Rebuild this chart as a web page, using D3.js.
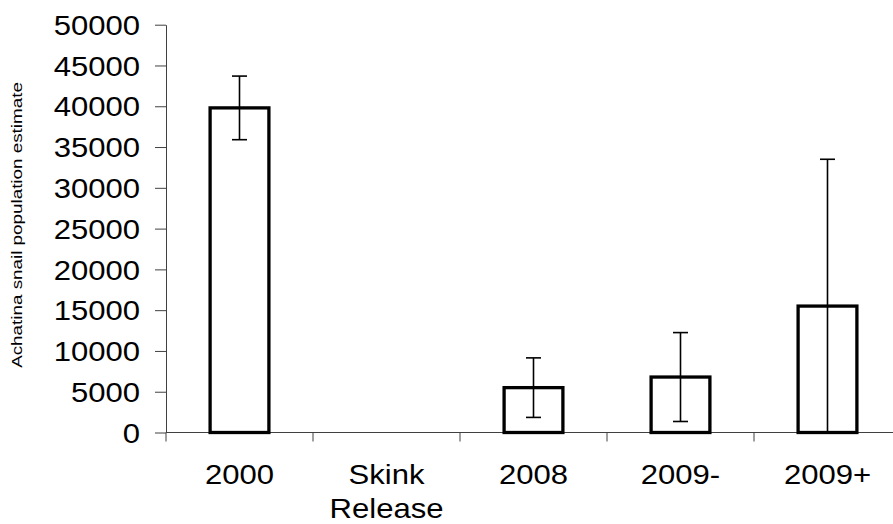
<!DOCTYPE html>
<html>
<head>
<meta charset="utf-8">
<script src="https://cdn.jsdelivr.net/npm/d3@7"></script>
<style>
  html, body { margin: 0; padding: 0; background: #fff; }
  svg { display: block; font-family: "Liberation Sans", Arial, sans-serif; }
</style>
</head>
<body>
<svg id="chart" width="893" height="524"></svg>
<script>
// ---- data ----
const categories = ["2000", "Skink Release", "2008", "2009-", "2009+"];
const means = [39800, null, 5500, 6800, 15500];
const errors = [3900, null, 3650, 5450, 18000];
const yTicks = [0, 5000, 10000, 15000, 20000, 25000, 30000, 35000, 40000, 45000, 50000];
const yTitle = "Achatina snail population estimate";

// ---- layout ----
const svg = d3.select("#chart");
const plotLeft = 166, plotRight = 901, plotTop = 24.7, plotBottom = 432.5;
const sx = 1.15; // horizontal stretch of the original lettering

const x = d3.scaleBand().domain(categories).range([plotLeft, plotRight])
  .paddingInner(0.6).paddingOuter(0.3);
const y = d3.scaleLinear().domain([0, 50000]).range([plotBottom, plotTop]);

const axisColor = "#404040";

// y axis
const gy = svg.append("g").attr("transform", `translate(${plotLeft},0)`)
  .call(d3.axisLeft(y).tickValues(yTicks).tickSize(11).tickSizeOuter(0).tickPadding(0).tickFormat(d3.format("d")));
gy.select(".domain").attr("stroke", axisColor);
gy.selectAll(".tick line").attr("stroke", axisColor);
gy.selectAll(".tick text")
  .attr("font-size", 27).attr("fill", "#000")
  .attr("font-family", "Liberation Sans, Arial, sans-serif")
  .attr("x", -26 / sx).attr("dy", "0.36em")
  .attr("transform", `scale(${sx},1)`);

// x axis line and boundary ticks
svg.append("line")
  .attr("x1", plotLeft).attr("x2", 893).attr("y1", y(0)).attr("y2", y(0))
  .attr("stroke", axisColor);
const boundaries = categories.map(c => x(c) - x.step() * x.paddingInner() / 2);
svg.selectAll(".xtick").data(boundaries).join("line")
  .attr("class", "xtick")
  .attr("x1", d => d).attr("x2", d => d)
  .attr("y1", y(0)).attr("y2", y(0) + 9)
  .attr("stroke", axisColor);

// x labels
const labels = svg.selectAll(".xlabel").data(categories).join("text")
  .attr("class", "xlabel")
  .attr("font-size", 27).attr("text-anchor", "middle").attr("fill", "#000")
  .attr("transform", d => `translate(${x(d) + x.bandwidth() / 2},484) scale(${sx},1)`);
labels.each(function(d) {
  const parts = d.split(" ");
  d3.select(this).selectAll("tspan").data(parts).join("tspan")
    .attr("x", 0).attr("y", (p, i) => i * 34).text(p => p);
});

// bars
const data = categories.map((c, i) => ({ c, v: means[i], e: errors[i] })).filter(d => d.v != null);
svg.selectAll(".bar").data(data).join("rect")
  .attr("class", "bar")
  .attr("x", d => x(d.c)).attr("width", x.bandwidth())
  .attr("y", d => y(d.v)).attr("height", d => y(0) - y(d.v))
  .attr("fill", "#fff").attr("stroke", "#000").attr("stroke-width", 3.3);

// error bars
const capW = 15;
const eb = svg.selectAll(".err").data(data).join("g").attr("class", "err")
  .attr("stroke", "#000").attr("stroke-width", 1.6);
eb.append("line")
  .attr("x1", d => x(d.c) + x.bandwidth() / 2).attr("x2", d => x(d.c) + x.bandwidth() / 2)
  .attr("y1", d => y(d.v + d.e)).attr("y2", d => y(Math.max(0, d.v - d.e)));
eb.append("line")
  .attr("x1", d => x(d.c) + x.bandwidth() / 2 - capW / 2).attr("x2", d => x(d.c) + x.bandwidth() / 2 + capW / 2)
  .attr("y1", d => y(d.v + d.e)).attr("y2", d => y(d.v + d.e));
eb.filter(d => d.v - d.e > 0).append("line")
  .attr("x1", d => x(d.c) + x.bandwidth() / 2 - capW / 2).attr("x2", d => x(d.c) + x.bandwidth() / 2 + capW / 2)
  .attr("y1", d => y(d.v - d.e)).attr("y2", d => y(d.v - d.e));

// y title
svg.append("text")
  .attr("transform", `translate(22,225) rotate(-90) scale(1.3,1)`)
  .attr("text-anchor", "middle").attr("font-size", 14.5).attr("fill", "#000")
  .text(yTitle);
</script>
</body>
</html>
